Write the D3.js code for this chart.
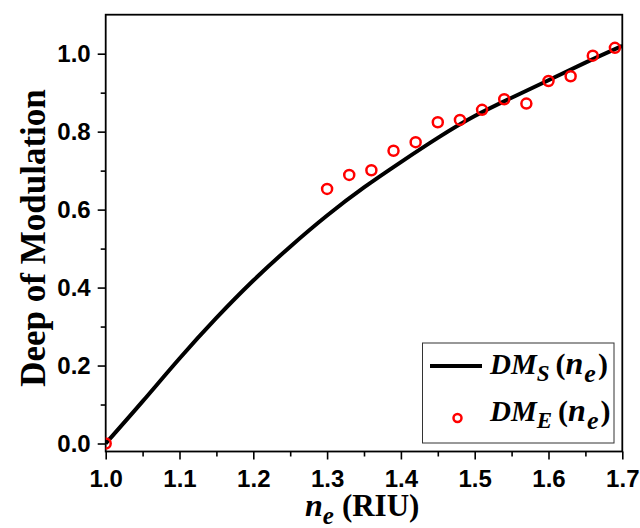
<!DOCTYPE html>
<html lang="en">
<head>
    <meta charset="UTF-8">
    <title>Deep of Modulation</title>
    <style>
        body {
            margin: 0;
            padding: 0;
            background-color: #ffffff;
        }
        svg {
            display: block;
        }
        .tick-label text {
            font-family: 'Liberation Sans', Arial, sans-serif;
            font-weight: bold;
            font-size: 24px;
            fill: #000000;
        }
        .serif {
            font-family: 'Liberation Serif', 'Times New Roman', serif;
            font-weight: bold;
            fill: #000000;
        }
    </style>
</head>
<body>
    <svg id="chart" width="640" height="528"></svg>
    <script src="https://d3js.org/d3.v7.min.js"></script>
    <script>
        // tick values
        const xMajor = [1.0, 1.1, 1.2, 1.3, 1.4, 1.5, 1.6, 1.7];
        const xMinor = [1.05, 1.15, 1.25, 1.35, 1.45, 1.55, 1.65];
        const yMajor = [0.0, 0.2, 0.4, 0.6, 0.8, 1.0];
        const yMinor = [0.1, 0.3, 0.5, 0.7, 0.9];

        // simulated curve DM_S(n_e)
        const simN  = [1.00, 1.05, 1.10, 1.15, 1.20, 1.25, 1.30, 1.35, 1.40, 1.45, 1.50, 1.55, 1.60, 1.65, 1.70];
        const simDM = [0.000, 0.108, 0.218, 0.322, 0.418, 0.505, 0.585, 0.657, 0.722, 0.784, 0.840, 0.887, 0.932, 0.977, 1.020];

        // experimental points DM_E(n_e)
        const expN  = [1.00, 1.30, 1.33, 1.36, 1.39, 1.42, 1.45, 1.48, 1.51, 1.54, 1.57, 1.60, 1.63, 1.66, 1.69];
        const expDM = [0.000, 0.653, 0.689, 0.701, 0.751, 0.773, 0.824, 0.830, 0.856, 0.883, 0.872, 0.930, 0.942, 0.995, 1.015];

        const svg = d3.select("#chart");
        const margin = {top: 14.7, right: 17.7, bottom: 76.5, left: 105.7};
        const width = 640 - margin.left - margin.right;
        const height = 528 - margin.top - margin.bottom;

        const x = d3.scaleLinear().domain([1.0, 1.7]).range([0, width]);
        const y = d3.scaleLinear().domain([-0.0205, 1.1]).range([height, 0]);

        const chart = svg.append("g").attr("transform", `translate(${margin.left}, ${margin.top})`);

        svg.append("defs").append("clipPath").attr("id", "plot-clip")
            .append("rect").attr("x", 0).attr("y", 0).attr("width", width).attr("height", height);

        // minor ticks
        chart.append("g")
            .attr("transform", `translate(0, ${height})`)
            .call(d3.axisBottom(x).tickValues(xMinor).tickSize(5).tickFormat(""))
            .call(g => g.select(".domain").remove());
        chart.append("g")
            .call(d3.axisLeft(y).tickValues(yMinor).tickSize(5).tickFormat(""))
            .call(g => g.select(".domain").remove());

        // major ticks with labels
        chart.append("g")
            .attr("class", "tick-label")
            .attr("transform", `translate(0, ${height})`)
            .call(d3.axisBottom(x).tickValues(xMajor).tickSize(8).tickPadding(10).tickFormat(d3.format(".1f")))
            .call(g => g.select(".domain").remove());
        chart.append("g")
            .attr("class", "tick-label")
            .call(d3.axisLeft(y).tickValues(yMajor).tickSize(8).tickPadding(7).tickFormat(d3.format(".1f")))
            .call(g => g.select(".domain").remove());

        chart.selectAll(".tick line").attr("stroke", "#000000").attr("stroke-width", 1.6);

        // frame
        chart.append("rect")
            .attr("x", 0).attr("y", 0)
            .attr("width", width).attr("height", height)
            .attr("fill", "none")
            .attr("stroke", "#000000")
            .attr("stroke-width", 1.8);

        const plot = chart.append("g").attr("clip-path", "url(#plot-clip)");

        const line = d3.line()
            .x((d, i) => x(simN[i]))
            .y(d => y(d))
            .curve(d3.curveNatural);

        plot.append("path")
            .datum(simDM)
            .attr("d", line)
            .attr("fill", "none")
            .attr("stroke", "#000000")
            .attr("stroke-width", 4);

        plot.selectAll("circle")
            .data(expDM)
            .enter()
            .append("circle")
            .attr("cx", (d, i) => x(expN[i]))
            .attr("cy", d => y(d))
            .attr("r", 5)
            .attr("fill", "none")
            .attr("stroke", "#ff0000")
            .attr("stroke-width", 2.5);

        // y axis title
        svg.append("text")
            .attr("class", "serif")
            .attr("transform", "translate(45, 238) rotate(-90)")
            .attr("text-anchor", "middle")
            .attr("font-size", 35)
            .text("Deep of Modulation");

        // x axis title
        const xt = svg.append("text")
            .attr("class", "serif")
            .attr("x", 305)
            .attr("y", 516)
            .attr("font-size", 30);
        xt.append("tspan").attr("font-style", "italic").attr("font-size", 32).text("n");
        xt.append("tspan").attr("font-style", "italic").attr("font-size", 25).attr("dy", 8).text("e");
        xt.append("tspan").attr("dy", -8).attr("dx", 8).attr("font-size", 31).text("(RIU)");

        // legend
        const legend = svg.append("g");
        legend.append("rect")
            .attr("x", 422.5).attr("y", 343)
            .attr("width", 191.5).attr("height", 100)
            .attr("fill", "#ffffff")
            .attr("stroke", "#333333")
            .attr("stroke-width", 1);
        legend.append("line")
            .attr("x1", 430).attr("x2", 482)
            .attr("y1", 366).attr("y2", 366)
            .attr("stroke", "#000000")
            .attr("stroke-width", 4);
        legend.append("circle")
            .attr("cx", 457.5).attr("cy", 418)
            .attr("r", 4)
            .attr("fill", "none")
            .attr("stroke", "#ff0000")
            .attr("stroke-width", 2.5);

        const legendLabels = [["S", 374], ["E", 421]];
        legendLabels.forEach(([sub, ly]) => {
            const t = legend.append("text")
                .attr("class", "serif")
                .attr("x", 490)
                .attr("y", ly)
                .attr("font-size", 29);
            t.append("tspan").attr("font-style", "italic").text("DM");
            t.append("tspan").attr("font-style", "italic").attr("font-size", 23).attr("dy", 7).text(sub);
            t.append("tspan").attr("dy", -7).attr("dx", 6).attr("font-size", 30).text("(");
            t.append("tspan").attr("font-style", "italic").attr("font-size", 32).text("n");
            t.append("tspan").attr("font-style", "italic").attr("font-size", 26).attr("dy", 8).attr("dx", 1).text("e");
            t.append("tspan").attr("dy", -8).attr("dx", 2).attr("font-size", 30).text(")");
        });
    </script>
</body>
</html>
